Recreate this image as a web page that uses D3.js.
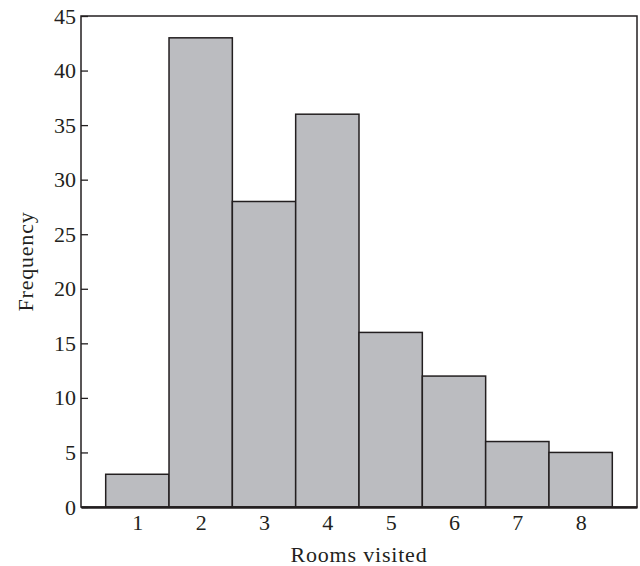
<!DOCTYPE html>
<html>
<head>
<meta charset="utf-8">
<script src="https://cdn.jsdelivr.net/npm/d3@7"></script>
<style>
  body { margin: 0; background: #fff; }
  text { font-family: "Liberation Serif", serif; }
</style>
</head>
<body>
<div class="chart"></div>
<script>
// Rooms visited (bins) and frequencies
var rooms = [1, 2, 3, 4, 5, 6, 7, 8]
var freq = [3, 43, 28, 36, 16, 12, 6, 5]
var yTicks = [0, 5, 10, 15, 20, 25, 30, 35, 40, 45]

var ink = "#231f20"

var margin = { top: 16, right: 3, bottom: 59, left: 81 },
    width = 640 - margin.left - margin.right,
    height = 566 - margin.top - margin.bottom;

var svg = d3.select(".chart")
    .append("svg")
    .attr("width", 640)
    .attr("height", 566)
    .append("g")
    .attr("transform", "translate(" + margin.left + "," + margin.top + ")");

var x = d3.scaleLinear()
    .domain([0.11, 8.89])
    .range([0, width])

var y = d3.scaleLinear()
    .domain([0, 45])
    .range([height, 0])

// bars
svg.selectAll(".bar")
    .data(rooms)
    .join("rect")
    .attr("class", "bar")
    .attr("x", function (d) { return x(d - 0.5) })
    .attr("y", function (d, i) { return y(freq[i]) })
    .attr("width", x(1.5) - x(0.5))
    .attr("height", function (d, i) { return y(0) - y(freq[i]) })
    .style("fill", "#bbbcc0")
    .style("stroke", ink)
    .style("stroke-width", 1.5)

// frame
svg.append("rect")
    .attr("width", width)
    .attr("height", height)
    .style("fill", "none")
    .style("stroke", ink)
    .style("stroke-width", 1.5)

// y axis, ticks pointing inward
svg.append("g")
    .call(d3.axisLeft(y).tickValues(yTicks).tickSizeInner(-7).tickSizeOuter(0).tickPadding(5))
    .attr("font-size", 22)
    .attr("font-family", "Liberation Serif, serif")
    .call(g => g.select(".domain").remove())
    .call(g => g.selectAll(".tick line").style("stroke", ink).style("stroke-width", 1.3))
    .call(g => g.selectAll(".tick text").attr("fill", ink))

// x axis, labels only
svg.append("g")
    .attr("transform", "translate(0," + height + ")")
    .call(d3.axisBottom(x).tickValues(rooms).tickSize(0).tickPadding(7))
    .attr("font-size", 22)
    .attr("font-family", "Liberation Serif, serif")
    .call(g => g.select(".domain").style("stroke", ink).style("stroke-width", 2.5))
    .call(g => g.selectAll(".tick text").attr("fill", ink))

svg.append("text")
    .attr("x", width / 2)
    .attr("y", height + 55)
    .attr("text-anchor", "middle")
    .attr("fill", ink)
    .style("font-size", "22px")
    .style("letter-spacing", "0.8px")
    .text("Rooms visited")

svg.append("text")
    .attr("transform", "translate(" + (-48) + "," + (height / 2) + ") rotate(-90)")
    .attr("text-anchor", "middle")
    .attr("fill", ink)
    .style("font-size", "22px")
    .style("letter-spacing", "0.8px")
    .text("Frequency")
</script>
</body>
</html>
